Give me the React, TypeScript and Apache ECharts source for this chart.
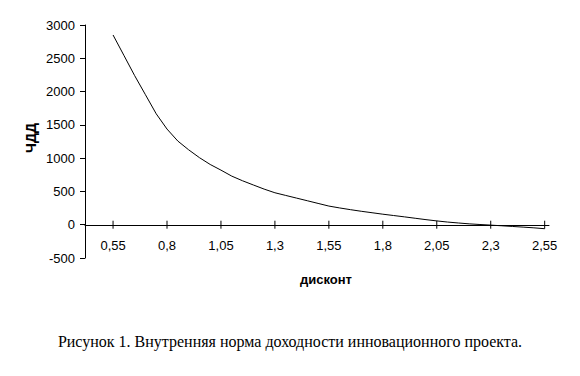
import React, { useEffect, useRef } from "react";
import * as echarts from "echarts";

const discount = [
  0.55, 0.6, 0.65, 0.7, 0.75, 0.8, 0.85, 0.9, 0.95, 1.0,
  1.05, 1.1, 1.15, 1.2, 1.25, 1.3, 1.35, 1.4, 1.45, 1.5,
  1.55, 1.6, 1.65, 1.7, 1.75, 1.8, 1.85, 1.9, 1.95, 2.0,
  2.05, 2.1, 2.15, 2.2, 2.25, 2.3, 2.35, 2.4, 2.45, 2.5, 2.55,
];
const npv = [
  2850, 2545, 2240, 1953, 1666, 1437, 1257, 1126, 1008, 905,
  820, 730, 660, 597, 535, 480, 440, 400, 360, 320,
  280, 252, 226, 202, 180, 158, 138, 118, 97, 76,
  57, 40, 26, 13, 3, -6, -16, -26, -36, -47, -60,
];
const xTickValues = [0.55, 0.8, 1.05, 1.3, 1.55, 1.8, 2.05, 2.3, 2.55];
const yAxisTitle = "ЧДД";
const xAxisTitle = "дисконт";
const caption = "Рисунок 1. Внутренняя норма доходности инновационного проекта.";

const fmt = (v: number) => String(Math.round(v * 100) / 100).replace(".", ",");

export default function App() {
  const ref = useRef<HTMLDivElement>(null);
  useEffect(() => {
    if (!ref.current) return;
    const chart = echarts.init(ref.current, null, { renderer: "svg" });
    const labelFont = { fontFamily: "Liberation Sans", fontSize: 13, color: "#000" };
    chart.setOption({
      animation: false,
      backgroundColor: "#fff",
      grid: { left: 85, right: 31, top: 25, bottom: 118, containLabel: false },
      xAxis: {
        type: "value",
        min: 0.42,
        max: 2.57,
        offset: -33,
        splitLine: { show: false },
        axisLine: { show: true, onZero: false, lineStyle: { color: "#000", width: 1 } },
        axisTick: { show: false },
        axisLabel: {
          ...labelFont,
          margin: 14,
          customValues: xTickValues,
          formatter: (v: number) => fmt(v),
        },
      },
      yAxis: {
        type: "value",
        min: -500,
        max: 3000,
        interval: 500,
        splitLine: { show: false },
        axisLine: { show: true, onZero: false, lineStyle: { color: "#000", width: 1 } },
        axisTick: { show: true, length: 5, lineStyle: { color: "#000" } },
        axisLabel: { ...labelFont, margin: 10, formatter: (v: number) => String(v) },
      },
      series: [
        {
          type: "line",
          data: discount.map((d, i) => [d, npv[i]]),
          showSymbol: false,
          smooth: false,
          lineStyle: { color: "#000", width: 1 },
          z: 3,
        },
        {
          type: "custom",
          silent: true,
          data: xTickValues.map((v) => [v, 0]),
          renderItem: (_params: any, api: any) => {
            const p = api.coord([api.value(0), 0]);
            return {
              type: "line",
              shape: { x1: p[0], y1: p[1] - 4, x2: p[0], y2: p[1] + 4 },
              style: { stroke: "#000", lineWidth: 1 },
            };
          },
          z: 4,
        },
      ],
      graphic: [
        {
          type: "text",
          x: 31,
          y: 138,
          rotation: Math.PI / 2,
          style: {
            text: yAxisTitle,
            fontFamily: "Liberation Sans",
            fontWeight: "bold",
            fontSize: 14,
            fill: "#000",
            align: "center",
            verticalAlign: "middle",
          },
        },
        {
          type: "text",
          x: 326,
          y: 279,
          style: {
            text: xAxisTitle,
            fontFamily: "Liberation Sans",
            fontWeight: "bold",
            fontSize: 13,
            fill: "#000",
            align: "center",
            verticalAlign: "middle",
          },
        },
        {
          type: "text",
          x: 290,
          y: 341,
          style: {
            text: caption,
            fontFamily: "Liberation Serif",
            fontSize: 16,
            fill: "#000",
            align: "center",
            verticalAlign: "middle",
          },
        },
      ],
    });
    return () => chart.dispose();
  }, []);
  return (
    <div
      ref={ref}
      style={{ position: "absolute", left: 0, top: 0, width: 580, height: 376 }}
    />
  );
}
